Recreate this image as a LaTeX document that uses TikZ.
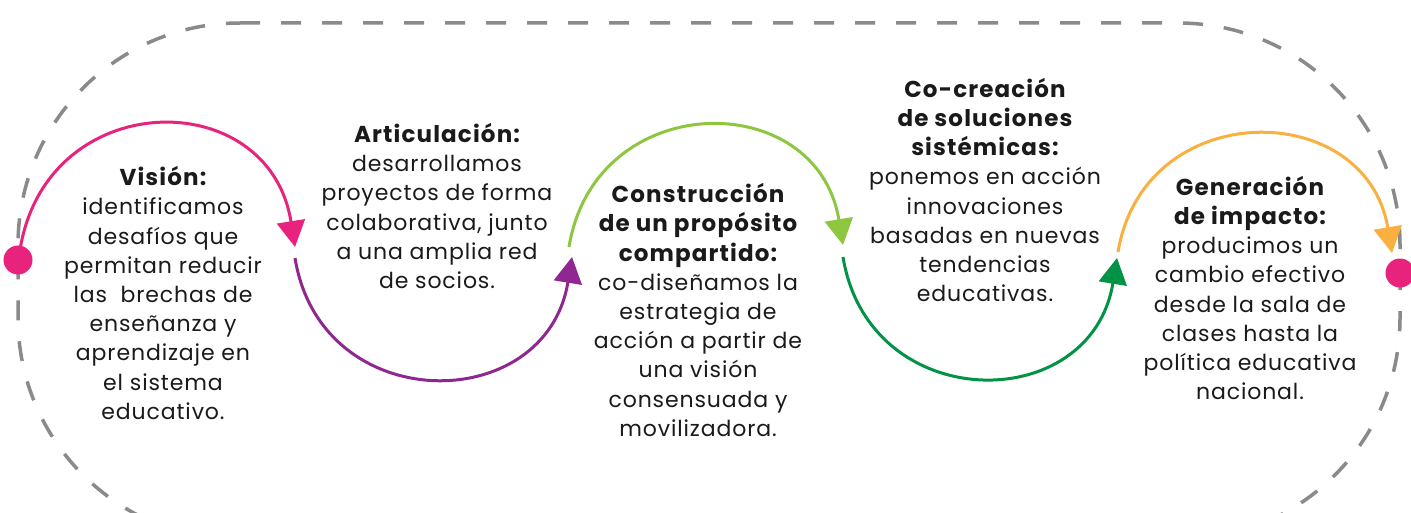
\documentclass[tikz,border=0pt]{standalone}
\usepackage{fontspec}
\setmainfont{Poppins}[LetterSpace=4]
\newfontfamily\headfont{Poppins}[LetterSpace=5]
\usetikzlibrary{arrows.meta,calc}
\definecolor{cpink}{HTML}{E8237E}
\definecolor{cpurple}{HTML}{8E278F}
\definecolor{clgreen}{HTML}{8DC63F}
\definecolor{cdgreen}{HTML}{009245}
\definecolor{corange}{HTML}{F9B040}
\definecolor{cgray}{HTML}{8A8A8A}
\definecolor{ctext}{HTML}{1A1A1A}
\newcommand{\hd}[1]{{\headfont\bfseries\fontsize{23}{29.2}\selectfont #1}}
\begin{document}
\begin{tikzpicture}[x=1pt,y=-1pt,
  outline/.style={draw=cgray,line width=3.5pt,dash pattern=on 20pt off 21pt},
  flow/.style={line width=3pt,-{Triangle[length=26pt,width=28pt]}},
  dot/.style={circle,fill=cpink,minimum size=29pt,inner sep=0pt},
  txt/.style={align=center,inner sep=0pt,text=ctext,font=\fontsize{22}{29.2}\selectfont}]
\clip (0,0) rectangle (1411,513);
\fill[white] (0,0) rectangle (1411,513);
% dashed outline
\draw[outline] (18,23) [rounded corners=222pt] -- (1400,23) -- (1400,540) -- (18,540) -- cycle;
% coordinates
\coordinate (a1) at (20,250);
\coordinate (b1) at (295,247);
\coordinate (a2) at (295,258);
\coordinate (b2) at (572,257);
\coordinate (a3) at (569,247);
\coordinate (b3) at (843,245);
\coordinate (a4) at (843,257);
\coordinate (b4) at (1117,258);
\coordinate (a5) at (1118,252);
\coordinate (b5) at (1392,253);
% arcs
\draw[flow,cpink] (a1) .. controls ($(a1)+(26,-164)$) and ($(b1)+(-26,-164)$) .. (b1);
\draw[flow,cpurple] (a2) .. controls ($(a2)+(26,160)$) and ($(b2)+(-26,160)$) .. (b2);
\draw[flow,clgreen] (a3) .. controls ($(a3)+(26,-159)$) and ($(b3)+(-26,-159)$) .. (b3);
\draw[flow,cdgreen] (a4) .. controls ($(a4)+(26,159)$) and ($(b4)+(-26,159)$) .. (b4);
\draw[flow,corange] (a5) .. controls ($(a5)+(26,-156)$) and ($(b5)+(-26,-156)$) .. (b5);
% dots
\node[dot] (startdot) at (18,260) {};
\node[dot] (enddot) at (1400,273) {};
% texts
\node[txt] (vision) at (163,293) {\hd{Visión:}\\identificamos\\desafíos que\\permitan reducir\\las~ brechas de\\enseñanza y\\aprendizaje en\\el sistema\\educativo.};
\node[txt] (artic) at (437,206) {\hd{Articulación:}\\desarrollamos\\proyectos de forma\\colaborativa, junto\\a una amplia red\\de socios.};
\node[txt] (constr) at (698,310) {\hd{Construcción}\\\hd{de un propósito}\\\hd{compartido:}\\co-diseñamos la\\estrategia de\\acción a partir de\\una visión\\consensuada y\\movilizadora.};
\node[txt] (cocrea) at (985,190) {\hd{Co-creación}\\\hd{de soluciones}\\\hd{sistémicas:}\\ponemos en acción\\innovaciones\\basadas en nuevas\\tendencias\\educativas.};
\node[txt] (gener) at (1250,288) {\hd{Generación}\\\hd{de impacto:}\\producimos un\\cambio efectivo\\desde la sala de\\clases hasta la\\política educativa\\nacional.};
\end{tikzpicture}
\end{document}
